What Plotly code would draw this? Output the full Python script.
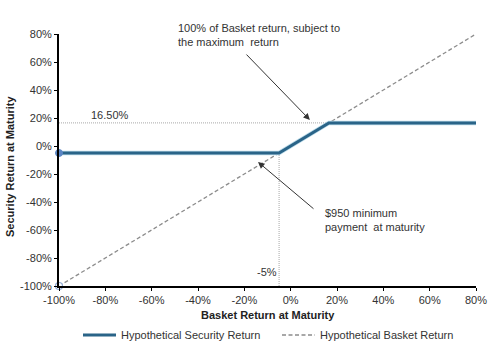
import plotly.graph_objects as go

# Data
security_x = [-100, -5, 16.5, 80]
security_y = [-5, -5, 16.5, 16.5]
basket_x = [-100, 80]
basket_y = [-100, 80]
max_return = 16.5
min_return = -5
tick_vals = [-100, -80, -60, -40, -20, 0, 20, 40, 60, 80]
tick_text = [f"{v}%" for v in tick_vals]

FONT = "Liberation Sans, Arial, sans-serif"
TXT = "#333333"
BLUE = "#2A6488"

fig = go.Figure()

# reference dotted lines
fig.add_trace(go.Scatter(x=[-100, max_return], y=[max_return, max_return], mode="lines",
                         line=dict(color="#a8a8a8", width=1, dash="1px,1px"), showlegend=False, hoverinfo="skip"))
fig.add_trace(go.Scatter(x=[min_return, min_return], y=[-100, min_return], mode="lines",
                         line=dict(color="#a8a8a8", width=1, dash="1px,1px"), showlegend=False, hoverinfo="skip"))

fig.add_trace(go.Scatter(x=basket_x, y=basket_y, mode="lines", name="Hypothetical Basket Return",
                         line=dict(color="#8c8c8c", width=1.3, dash="4px,2.5px"), legend="legend2"))

# light halo under security line
fig.add_trace(go.Scatter(x=security_x, y=security_y, mode="lines", showlegend=False, hoverinfo="skip",
                         line=dict(color="#BCDCEA", width=4.5)))
fig.add_trace(go.Scatter(x=security_x, y=security_y, mode="lines", name="Hypothetical Security Return",
                         line=dict(color=BLUE, width=3), legend="legend"))

# endpoint markers
fig.add_trace(go.Scatter(x=[security_x[0]], y=[security_y[0]], mode="markers", showlegend=False,
                         marker=dict(size=7, color="#5B86C4", line=dict(color="#5B86C4", width=1)),
                         cliponaxis=False))
fig.add_trace(go.Scatter(x=[basket_x[0]], y=[basket_y[0]], mode="markers", showlegend=False,
                         marker=dict(size=7, color="white", line=dict(color="#8FAAD4", width=1.2)),
                         cliponaxis=False))

# plot area: x 59..476 px, y 34..286 px
annos = [
    dict(x=(176 - 59) / 417, y=(286 - 20) / 252, xref="paper", yref="paper",
         text="100% of Basket return, subject to<br>the maximum  return",
         showarrow=False, xanchor="left", yanchor="top", align="left"),
    dict(x=8.3, y=18.6, ax=-19.7, ay=66.4, axref="x", ayref="y", text="", showarrow=True,
         arrowhead=2, arrowsize=1.3, arrowwidth=1, arrowcolor="#333333"),
    dict(x=13.9, y=-42, text="$950 minimum<br>payment  at maturity", showarrow=False,
         xanchor="left", yanchor="top", align="left"),
    dict(x=-14.1, y=-11.4, ax=10.5, ay=-45.7, axref="x", ayref="y", text="", showarrow=True,
         arrowhead=2, arrowsize=1.3, arrowwidth=1, arrowcolor="#333333"),
    dict(x=-78, y=22.1, text="16.50%", showarrow=False, xanchor="center", yanchor="middle"),
    dict(x=-10.2, y=-90, text="-5%", showarrow=False, xanchor="center", yanchor="middle"),
    dict(x=(268 - 59) / 417, y=(286 - 315) / 252, xref="paper", yref="paper",
         text="<b>Basket Return at Maturity</b>", showarrow=False, xanchor="center", yanchor="middle",
         font=dict(family=FONT, size=11, color="#222")),
    dict(x=(10 - 59) / 417, y=(286 - 167) / 252, xref="paper", yref="paper", textangle=-90,
         text="<b>Security Return at Maturity</b>", showarrow=False, xanchor="center", yanchor="middle",
         font=dict(family=FONT, size=11, color="#222")),
]
for a in annos:
    a.setdefault("font", dict(family=FONT, size=11, color=TXT))
    fig.add_annotation(**a)

legend_common = dict(orientation="h", xanchor="left", xref="container", yref="container",
                     y=(354 - 335) / 354, yanchor="middle",
                     font=dict(family=FONT, size=11, color=TXT), itemwidth=33, bgcolor="rgba(0,0,0,0)")

fig.update_layout(
    width=500, height=354,
    margin=dict(l=59, r=24, t=34, b=68),
    paper_bgcolor="white", plot_bgcolor="white",
    font=dict(family=FONT, size=11, color=TXT),
    showlegend=True,
    legend=dict(x=78 / 500, **legend_common),
    legend2=dict(x=277 / 500, **legend_common),
    xaxis=dict(range=[-100, 80], tickvals=tick_vals, ticktext=tick_text, showgrid=False, zeroline=False,
               showline=True, linecolor="black", linewidth=2, ticks="outside", ticklen=3,
               tickcolor="black", tickfont=dict(size=11, color=TXT), automargin=False),
    yaxis=dict(range=[-100, 80], tickvals=tick_vals, ticktext=tick_text, showgrid=False, zeroline=False,
               showline=True, linecolor="black", linewidth=2, ticks="outside", ticklen=3,
               tickcolor="black", tickfont=dict(size=11, color=TXT), automargin=False),
)

fig.write_html("out.html")
